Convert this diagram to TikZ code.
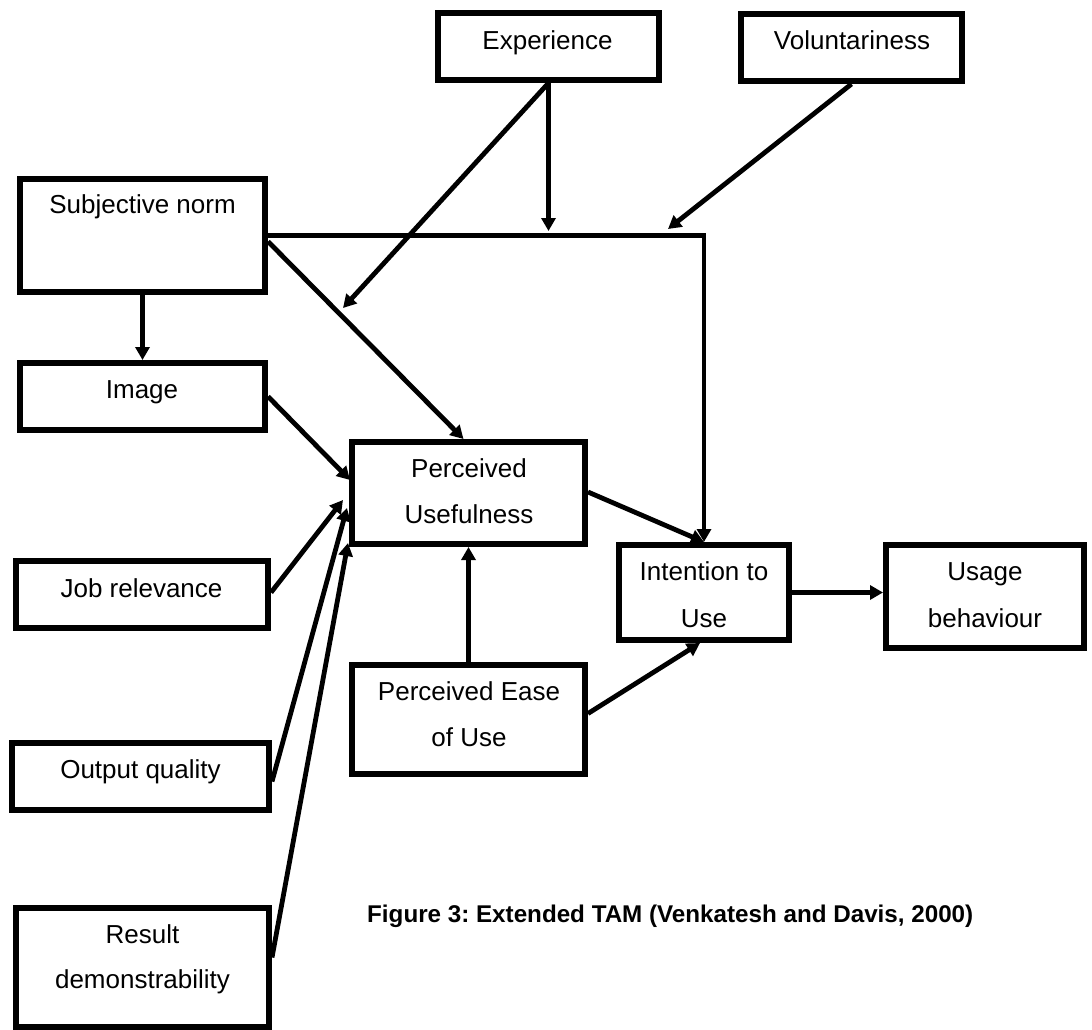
\documentclass[tikz,border=0pt]{standalone}
\usepackage{fontspec}
\setmainfont{Liberation Sans}
\usetikzlibrary{arrows.meta,calc}
\frenchspacing
\begin{document}
\begin{tikzpicture}[x=1pt,y=-1pt,
  box/.style={draw, line width=6pt, rectangle, inner sep=0pt},
  txt/.style={anchor=base, font=\fontsize{26}{30}\selectfont, inner sep=0pt},
  link/.style={line width=4.8pt, -{Triangle[length=13pt,width=14pt]}},
  caption/.style={anchor=base west, font=\fontsize{24.2}{28}\selectfont\bfseries, inner sep=0pt}]
\useasboundingbox (0,0) rectangle (1092,1030);

% construct boxes
\node[box, minimum width=221pt, minimum height=67pt]  (exp)  at (548.5,46.5) {};
\node[box, minimum width=221pt, minimum height=67pt]  (vol)  at (851.5,47.5) {};
\node[box, minimum width=245pt, minimum height=113pt] (sn)   at (142.5,235.5) {};
\node[box, minimum width=245pt, minimum height=67pt]  (img)  at (142.5,396.5) {};
\node[box, minimum width=252pt, minimum height=67pt]  (job)  at (142,594.5) {};
\node[box, minimum width=257pt, minimum height=67pt]  (out)  at (140.5,776.5) {};
\node[box, minimum width=253pt, minimum height=119pt] (res)  at (142.5,967.5) {};
\node[box, minimum width=233pt, minimum height=102pt] (pu)   at (468.5,493) {};
\node[box, minimum width=233pt, minimum height=109pt] (peou) at (468.5,719.5) {};
\node[box, minimum width=170pt, minimum height=95pt]  (itu)  at (704,592.5) {};
\node[box, minimum width=198pt, minimum height=103pt] (ub)   at (985,596.5) {};

% labels
\node[txt] (t-exp)  at (547.5,50)  {Experience};
\node[txt] (t-vol)  at (852,50)    {Voluntariness};
\node[txt] (t-sn)   at (142.5,213) {Subjective norm};
\node[txt] (t-img)  at (142,398)   {Image};
\node[txt] (t-pu1)  at (469,477)   {Perceived};
\node[txt] (t-pu2)  at (469,523)   {Usefulness};
\node[txt] (t-pe1)  at (469,700)   {Perceived Ease};
\node[txt] (t-pe2)  at (469,746)   {of Use};
\node[txt] (t-it1)  at (704,580)   {Intention to};
\node[txt] (t-it2)  at (704,627)   {Use};
\node[txt] (t-ub1)  at (985,580)   {Usage};
\node[txt] (t-ub2)  at (985,627)   {behaviour};
\node[txt] (t-job)  at (141.5,597) {Job relevance};
\node[txt] (t-out)  at (140.5,778) {Output quality};
\node[txt] (t-res1) at (142.5,943) {Result};
\node[txt] (t-res2) at (142.5,988) {demonstrability};
\node[caption] (cap) at (367,922) {Figure 3: Extended TAM (Venkatesh and Davis, 2000)};

% free ends of the moderating arrows
\coordinate (mod1) at (548.5,231);
\coordinate (mod2) at (343,308);
\coordinate (mod3) at (668,229);

% connectors
\draw[link] (sn.south) -- (img.north);
\draw[link] (sn.east) -| (itu.north);
\draw[link] ($(sn.east)+(0,6)$) -- ($(pu.north)+(-5,0)$);
\draw[link] (exp.south) -- (mod1);
\draw[link] (exp.south) -- (mod2);
\draw[link] (vol.south) -- (mod3);
\draw[link] (img.east) -- ($(pu.west)+(1,-13)$);
\draw[link] ($(job.east)+(0,-2)$) -- ($(pu.west)+(-6,7)$);
\draw[link] ($(out.east)+(0,5)$) -- ($(pu.west)+(-2,15)$);
\draw[link] ($(res.east)+(0,-10)$) -- ($(pu.west)+(-1,50)$);
\draw[link] ($(pu.east)+(0,-1)$) -- (itu.north);
\draw[link] (peou.north) -- (pu.south);
\draw[link] ($(peou.east)+(0,-6)$) -- ($(itu.south)+(-4,0)$);
\draw[link] (itu.east) -- (itu.east -| ub.west);
\end{tikzpicture}
\end{document}
